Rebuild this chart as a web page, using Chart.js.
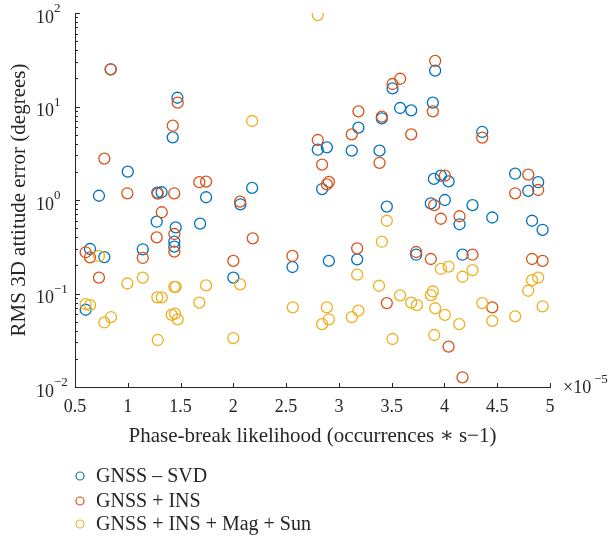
<!DOCTYPE html>
<html>
<head>
<meta charset="utf-8">
<script src="https://cdn.jsdelivr.net/npm/chart.js@4.4.0/dist/chart.umd.min.js"></script>
<style>
  html, body { margin: 0; padding: 0; background: #fff; }
  #wrap { width: 615px; height: 540px; }
</style>
</head>
<body>
<div id="wrap"><canvas id="phaseChart" width="615" height="540"></canvas></div>
<script>
// x values are in units of 1e-5 occurrences per second
const svdX = [0.838, 1.470, 1.426, 1.000, 0.727, 1.280, 1.320, 1.742, 2.067, 2.178,
              3.912, 3.508, 3.890, 3.580, 3.685, 3.185, 3.407, 2.800, 2.886, 3.122,
              3.385, 2.841, 3.900, 3.966, 4.039, 4.358, 4.670, 4.888, 4.794, 3.871,
              4.004, 4.266, 4.143, 4.453, 4.830, 4.930, 3.732, 4.171, 3.454, 3.173,
              2.560, 2.905, 1.274, 1.685, 1.454, 1.441, 1.441, 0.642, 0.778, 1.142,
              2.000, 0.601];
const svdY = [25.0, 12.4, 4.68, 2.01, 1.11, 1.20, 1.21, 1.07, 0.90, 1.35,
              24.2, 15.6, 11.0, 9.64, 9.10, 5.94, 7.47, 3.45, 3.66, 3.37,
              3.37, 1.31, 1.68, 1.82, 1.58, 5.34, 1.91, 1.55, 1.25, 0.92,
              1.00, 0.88, 0.55, 0.65, 0.60, 0.48, 0.26, 0.26, 0.85, 0.232,
              0.192, 0.223, 0.586, 0.558, 0.51, 0.358, 0.317, 0.299, 0.245, 0.297,
              0.148, 0.067];

const insX = [0.838, 1.473, 1.426, 0.778, 0.996, 1.284, 1.440, 1.678, 1.742, 2.064,
              3.912, 3.580, 3.508, 3.890, 3.185, 3.122, 3.407, 3.685, 2.800, 3.385,
              2.841, 2.905, 2.886, 4.358, 4.004, 4.794, 4.670, 4.888, 3.903, 3.966,
              4.143, 3.732, 3.871, 4.266, 4.830, 4.930, 4.453, 4.039, 4.171, 3.173,
              2.560, 2.184, 3.454, 1.322, 1.441, 1.441, 1.274, 0.601, 0.642, 1.142,
              0.727, 2.000];
const insY = [25.0, 11.0, 6.23, 2.77, 1.18, 1.17, 1.18, 1.55, 1.57, 0.96,
              30.7, 19.8, 17.4, 8.87, 8.87, 5.04, 7.78, 5.04, 4.38, 2.50,
              2.39, 1.56, 1.47, 4.64, 1.82, 1.87, 1.18, 1.28, 0.88, 0.63,
              0.67, 0.278, 0.234, 0.26, 0.234, 0.223, 0.071, 0.027, 0.0127, 0.304,
              0.252, 0.389, 0.079, 0.74, 0.433, 0.28, 0.399, 0.276, 0.244, 0.240,
              0.148, 0.223];

const magX = [2.800, 2.178, 3.454, 3.407, 3.173, 3.380, 3.580, 3.685, 3.739, 3.871,
              3.890, 3.912, 4.004, 2.563, 2.886, 2.905, 2.841, 3.185, 3.122, 3.508,
              3.903, 3.966, 4.039, 4.171, 4.266, 4.830, 4.888, 4.794, 4.358, 4.930,
              4.670, 4.453, 4.140, 0.727, 0.996, 1.142, 2.064, 1.441, 1.454, 1.742,
              1.280, 1.322, 1.678, 0.601, 0.642, 0.841, 0.778, 1.416, 1.448, 1.473,
              1.284, 2.000];
const magY = [95.0, 7.0, 0.60, 0.358, 0.159, 0.121, 0.0955, 0.080, 0.075, 0.096,
              0.105, 0.0695, 0.059, 0.071, 0.071, 0.053, 0.047, 0.0655, 0.056, 0.0326,
              0.036, 0.183, 0.194, 0.151, 0.178, 0.139, 0.148, 0.107, 0.079, 0.073,
              0.057, 0.051, 0.047, 0.252, 0.128, 0.148, 0.125, 0.118, 0.118, 0.122,
              0.091, 0.091, 0.080, 0.077, 0.075, 0.056, 0.049, 0.059, 0.061, 0.053,
              0.0318, 0.0334];

const seriesNames = ['GNSS \u2013 SVD', 'GNSS + INS', 'GNSS + INS + Mag + Sun'];
const seriesColors = ['#0072BD', '#D95319', '#EDB120'];
const xTicks = [0.5, 1, 1.5, 2, 2.5, 3, 3.5, 4, 4.5, 5];
const yDecades = [-2, -1, 0, 1, 2];
const xTitle = 'Phase-break likelihood (occurrences \u2217 s\u22121)';
const yTitle = 'RMS 3D attitude error (degrees)';

const FONT = "'Liberation Serif', 'DejaVu Serif', serif";
const INK = '#262626';

function toPoints(xs, ys) {
    return xs.map((x, i) => ({ x: x, y: ys[i] }));
}

// Extra axis decoration: inward ticks, power-of-ten labels, titles, legend
const decorPlugin = {
    id: 'decor',
    afterDraw(chart) {
        const ctx = chart.ctx;
        const xs = chart.scales.x;
        const ys = chart.scales.y;
        const area = chart.chartArea;
        ctx.save();
        ctx.strokeStyle = INK;
        ctx.lineWidth = 1;

        // x ticks pointing inward
        xTicks.forEach(v => {
            const px = Math.round(xs.getPixelForValue(v)) + 0.5;
            ctx.beginPath();
            ctx.moveTo(px, area.bottom);
            ctx.lineTo(px, area.bottom - 4);
            ctx.stroke();
        });

        // y ticks (major + minor) pointing inward
        for (let e = -2; e <= 2; e++) {
            for (let m = 1; m <= 9; m++) {
                if (e === 2 && m > 1) break;
                const py = Math.round(ys.getPixelForValue(m * Math.pow(10, e))) + 0.5;
                const len = m === 1 ? 5 : 3;
                ctx.beginPath();
                ctx.moveTo(area.left, py);
                ctx.lineTo(area.left + len, py);
                ctx.stroke();
            }
        }

        // y decade labels with superscripts
        ctx.fillStyle = INK;
        yDecades.forEach(e => {
            const py = ys.getPixelForValue(Math.pow(10, e));
            ctx.font = '18px ' + FONT;
            ctx.textAlign = 'right';
            ctx.textBaseline = 'middle';
            ctx.fillText('10', 54, py + 5);
            ctx.font = '13px ' + FONT;
            ctx.textAlign = 'left';
            ctx.fillText(String(e).replace('-', '\u2212'), 54, py - 4);
        });

        // x exponent
        ctx.font = '18px ' + FONT;
        ctx.textAlign = 'left';
        ctx.textBaseline = 'middle';
        ctx.fillText('\u00d710', 563, area.bottom + 1);
        ctx.font = '13px ' + FONT;
        ctx.fillText('\u22125', 594, area.bottom - 7);

        // axis titles
        ctx.font = '21px ' + FONT;
        ctx.textAlign = 'center';
        ctx.textBaseline = 'middle';
        ctx.fillText(xTitle, (area.left + area.right) / 2, 436);
        ctx.save();
        ctx.translate(19, (area.top + area.bottom) / 2);
        ctx.rotate(-Math.PI / 2);
        ctx.fillText(yTitle, 0, 0);
        ctx.restore();

        // legend
        const legendY = [476, 501, 524];
        seriesNames.forEach((name, i) => {
            ctx.strokeStyle = seriesColors[i];
            ctx.lineWidth = 1.2;
            ctx.beginPath();
            ctx.arc(80, legendY[i], 4, 0, Math.PI * 2);
            ctx.stroke();
            ctx.fillStyle = INK;
            ctx.font = '20px ' + FONT;
            ctx.textAlign = 'left';
            ctx.textBaseline = 'middle';
            ctx.fillText(name, 96, legendY[i] + 1);
        });
        ctx.restore();
    }
};

function makeSet(i, xs, ys, order) {
    return {
        label: seriesNames[i],
        data: toPoints(xs, ys),
        borderColor: seriesColors[i],
        backgroundColor: 'rgba(0,0,0,0)',
        pointRadius: 5.5,
        pointBorderWidth: 1.3,
        pointStyle: 'circle',
        order: order
    };
}

document.addEventListener('DOMContentLoaded', function() {
    const ctx = document.getElementById('phaseChart').getContext('2d');
    new Chart(ctx, {
        type: 'scatter',
        data: {
            datasets: [
                makeSet(0, svdX, svdY, 3),
                makeSet(1, insX, insY, 2),
                makeSet(2, magX, magY, 1)
            ]
        },
        options: {
            responsive: false,
            animation: false,
            layout: { padding: { top: 13, right: 65, left: 0, bottom: 0 } },
            plugins: {
                legend: { display: false },
                tooltip: { enabled: false }
            },
            scales: {
                x: {
                    type: 'linear',
                    min: 0.5,
                    max: 5,
                    afterFit: function(scale) { scale.height = 153; },
                    grid: { display: false, drawTicks: false },
                    border: { display: true, color: INK, width: 1 },
                    ticks: {
                        stepSize: 0.5,
                        autoSkip: false,
                        maxRotation: 0,
                        padding: 9,
                        color: INK,
                        font: { family: FONT, size: 18 },
                        callback: function(value) { return String(Number(value)); }
                    }
                },
                y: {
                    type: 'logarithmic',
                    min: 0.01,
                    max: 100,
                    afterFit: function(scale) { scale.width = 75; },
                    grid: { display: false, drawTicks: false },
                    border: { display: true, color: INK, width: 1 },
                    ticks: { display: false }
                }
            }
        },
        plugins: [decorPlugin]
    });
});
</script>
</body>
</html>
